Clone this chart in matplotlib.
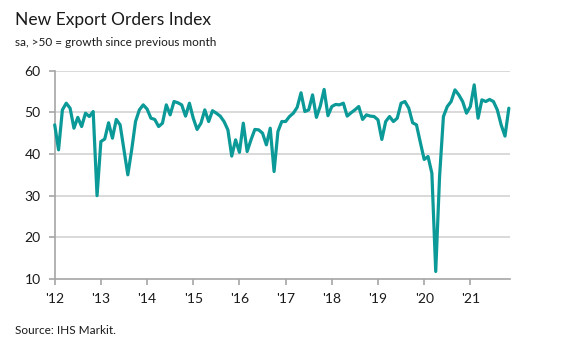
import matplotlib
matplotlib.use("Agg")
import matplotlib.pyplot as plt

title = "New Export Orders Index"
subtitle = "sa, >50 = growth since previous month"
source = "Source: IHS Markit."
year_labels = ["'12", "'13", "'14", "'15", "'16", "'17", "'18", "'19", "'20", "'21"]
y_ticks = [10, 20, 30, 40, 50, 60]

# Monthly index values, Jan 2012 - Nov 2021
values = [
    47.0, 41.0, 50.6, 52.2, 51.0, 46.2, 48.8, 46.6, 49.8, 49.0, 50.2, 30.0,   # 2012
    43.0, 43.6, 47.5, 43.8, 48.3, 47.0, 41.0, 35.0, 41.0, 47.8, 50.6, 51.8,   # 2013
    50.8, 48.6, 48.3, 46.6, 47.4, 51.8, 49.4, 52.6, 52.3, 51.8, 49.1, 52.2,   # 2014
    48.6, 45.9, 47.4, 50.6, 47.8, 50.4, 49.8, 49.1, 47.8, 45.8, 39.5, 43.4,   # 2015
    40.4, 47.4, 40.6, 43.4, 45.9, 45.8, 45.0, 42.2, 46.2, 35.8, 45.4, 47.8,   # 2016
    47.8, 49.0, 49.8, 51.2, 54.7, 50.2, 50.6, 54.2, 48.8, 51.5, 55.5, 49.2,   # 2017
    51.4, 51.9, 51.8, 52.2, 49.1, 49.9, 50.6, 51.4, 48.3, 49.4, 49.1, 49.0,   # 2018
    48.2, 43.5, 47.8, 49.0, 47.8, 48.6, 52.2, 52.6, 51.0, 47.5, 47.0, 42.8,   # 2019
    38.7, 39.4, 35.4, 11.8, 34.6, 49.0, 51.4, 52.6, 55.4, 54.2, 52.6, 49.8,   # 2020
    51.4, 56.6, 48.6, 53.0, 52.6, 53.1, 52.6, 50.6, 47.0, 44.3, 51.0,         # 2021
]
months = list(range(len(values)))

plt.rcParams['font.family'] = ['Lato', 'DejaVu Sans']

W, H = 563, 355
fig = plt.figure(figsize=(W / 100, H / 100), dpi=100)
ax = fig.add_axes([54.7 / W, 1 - 279 / H, (510 - 54.7) / W, (279 - 70.7) / H])

ax.plot(months, values, color='#0b9a98', lw=2.3, solid_joinstyle='round',
        solid_capstyle='round', zorder=3, clip_on=False)

ax.set_xlim(0, 118.3)
ax.set_ylim(10, 60)
ax.set_yticks(y_ticks)
ax.set_xticks([12 * i for i in range(len(year_labels))])
ax.set_xticklabels(year_labels)

for v in y_ticks[1:]:
    ax.axhline(v, color='#d9d9d9', lw=1.4, zorder=1)

for s in ['top', 'right']:
    ax.spines[s].set_visible(False)
for s in ['left', 'bottom']:
    ax.spines[s].set_color('#a6a6a6')
    ax.spines[s].set_linewidth(1.2)

ax.tick_params(axis='both', colors='#a6a6a6', labelcolor='#1a1a1a',
               labelsize=10, length=4, width=1.2)
ax.tick_params(axis='x', pad=6)
ax.tick_params(axis='y', pad=6)

fig.text(15 / W, 1 - 20 / H, title, fontsize=12.5, color='#1a1a1a', va='center', ha='left')
fig.text(15 / W, 1 - 43 / H, subtitle, fontsize=8.5, color='#1a1a1a', va='center', ha='left')
fig.text(15 / W, 1 - 331 / H, source, fontsize=8.5, color='#1a1a1a', va='center', ha='left')

fig.savefig('out.png', dpi=100, facecolor='white')
